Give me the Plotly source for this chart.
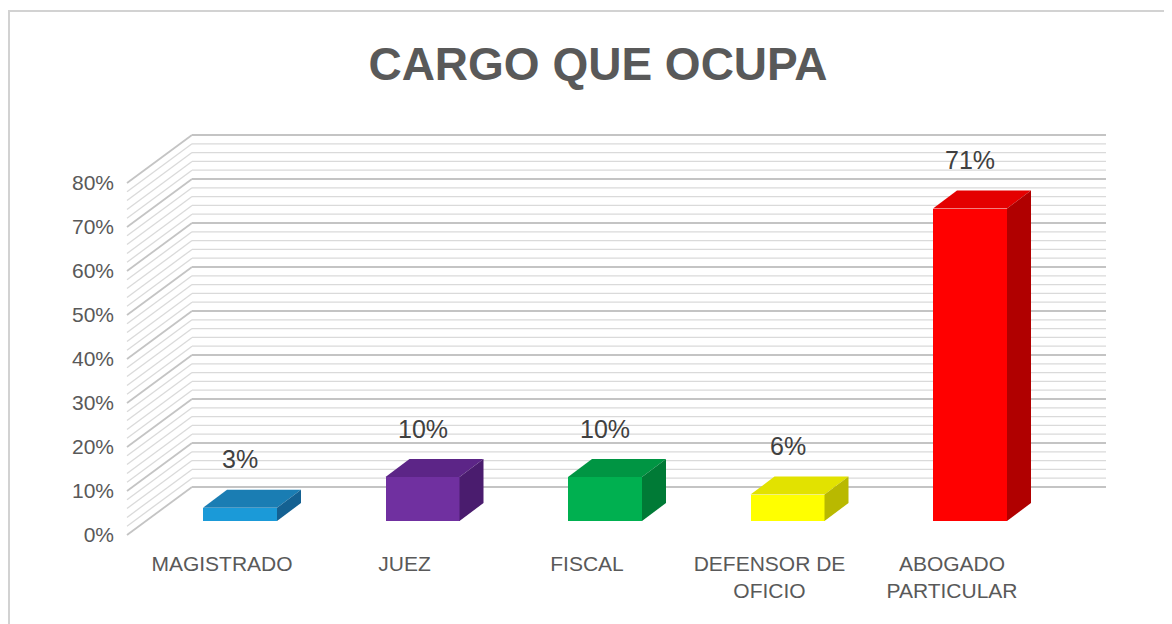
import plotly.graph_objects as go

# ---------------- data ----------------
categories = ["MAGISTRADO", "JUEZ", "FISCAL", "DEFENSOR DE OFICIO", "ABOGADO PARTICULAR"]
tick_text = ["MAGISTRADO", "JUEZ", "FISCAL", "DEFENSOR DE<br>OFICIO", "ABOGADO<br>PARTICULAR"]
values = [3, 10, 10, 6, 71]
value_labels = ["3%", "10%", "10%", "6%", "71%"]
y_ticks = [0, 10, 20, 30, 40, 50, 60, 70, 80]
y_tick_labels = ["0%", "10%", "20%", "30%", "40%", "50%", "60%", "70%", "80%"]
title_text = "CARGO QUE OCUPA"

front_colors = ["#1b9ad8", "#7030a0", "#00b050", "#ffff00", "#ff0000"]
top_colors = ["#1a7db3", "#5c2587", "#009543", "#e2e200", "#e40000"]
side_colors = ["#146192", "#4a1c6e", "#007a36", "#b9b900", "#b00000"]

# ---------------- page geometry ----------------
OFF = 8                      # browser body margin
W, H = 1172 - OFF, 624 - OFF
L, R = 115 - OFF, 50
T, B = 100 - OFF, 83 - OFF
PW, PH = W - L - R, H - T - B

# ---------------- geometry (in axis units) ----------------
PX_U = 182.5      # pixels per category unit
PX_V = 4.4        # pixels per percent
bar_w = 74 / PX_U
bar_du, bar_dv = 18 / PX_U, 14 / PX_V      # bar plane offset from front plane
dep_du, dep_dv = 24 / PX_U, 18 / PX_V      # bar depth
wall_du, wall_dv = 65 / PX_U, 48 / PX_V    # back wall offset
wall_left = (127 - 222) / PX_U
wall_right = (1106 - 222) / PX_U
wall_top = 80

fig = go.Figure()

# wall gridlines
shapes = []
for g in range(0, wall_top + 1, 2):
    major = g % 10 == 0
    col = "#c4c4c4" if major else "#dadada"
    wid = 1.8 if major else 1.3
    shapes.append(dict(type="line", xref="x", yref="y", layer="below",
                       x0=wall_left, y0=g, x1=wall_left + wall_du, y1=g + wall_dv,
                       line=dict(color=col, width=wid)))
    shapes.append(dict(type="line", xref="x", yref="y", layer="below",
                       x0=wall_left + wall_du, y0=g + wall_dv, x1=wall_right, y1=g + wall_dv,
                       line=dict(color=col, width=wid)))


def px_x(p):
    return (p - OFF - L) / PW


def px_y(p):
    return (T + PH - (p - OFF)) / PH


# frame lines (top and left)
shapes.append(dict(type="line", xref="paper", yref="paper",
                   x0=px_x(8), x1=px_x(1180), y0=px_y(11), y1=px_y(11),
                   line=dict(color="#d2d2d2", width=2)))
shapes.append(dict(type="line", xref="paper", yref="paper",
                   x0=px_x(9), x1=px_x(9), y0=px_y(11), y1=px_y(640),
                   line=dict(color="#d2d2d2", width=2)))

xs = list(range(len(categories)))

# front faces
fig.add_trace(go.Bar(
    x=[i + bar_du for i in xs], y=values, base=bar_dv, width=bar_w,
    marker=dict(color=front_colors, line=dict(width=0)),
    hovertext=categories, hoverinfo="text+y", showlegend=False))

# top and side faces
for i, v in enumerate(values):
    xl = i + bar_du - bar_w / 2
    xr = i + bar_du + bar_w / 2
    t = bar_dv + v
    fig.add_trace(go.Scatter(
        x=[xl, xr, xr + dep_du, xl + dep_du, xl],
        y=[t, t, t + dep_dv, t + dep_dv, t],
        fill="toself", fillcolor=top_colors[i], mode="lines",
        line=dict(width=0, color=top_colors[i]), hoverinfo="skip", showlegend=False))
    fig.add_trace(go.Scatter(
        x=[xr, xr + dep_du, xr + dep_du, xr, xr],
        y=[bar_dv, bar_dv + dep_dv, t + dep_dv, t, bar_dv],
        fill="toself", fillcolor=side_colors[i], mode="lines",
        line=dict(width=0, color=side_colors[i]), hoverinfo="skip", showlegend=False))

annotations = []
for i, v in enumerate(values):
    annotations.append(dict(x=i + bar_du, y=v + 14.2, xref="x", yref="y",
                            text=value_labels[i], showarrow=False,
                            font=dict(size=25, color="#404040",
                                      family="Liberation Sans")))

# axis ranges so that 0% front sits at pixel 535 and 10% spans 44 px
y_lo = -((T + PH + OFF) - 535) / PX_V
y_hi = (535 - (T + OFF)) / PX_V
x_lo = ((L + OFF) - 222) / PX_U
x_hi = ((L + PW + OFF) - 222) / PX_U

fig.update_layout(
    width=W, height=H,
    margin=dict(l=L, r=R, t=T, b=B),
    paper_bgcolor="white", plot_bgcolor="rgba(0,0,0,0)",
    font=dict(family="Liberation Sans", color="#595959"),
    title=dict(text=title_text, x=(598 - OFF) / W, xanchor="center",
               y=1 - (64 - OFF) / H, yanchor="middle", yref="container",
               font=dict(size=46, color="#595959", family="Liberation Sans",
                         weight="bold")),
    shapes=shapes, annotations=annotations,
    bargap=0,
    xaxis=dict(range=[x_lo, x_hi],
               tickvals=xs, ticktext=tick_text, showgrid=False, zeroline=False,
               showline=False, ticks="", tickfont=dict(size=21, color="#595959"),
               fixedrange=True),
    yaxis=dict(range=[y_lo, y_hi],
               tickvals=y_ticks, ticktext=y_tick_labels, showgrid=False,
               zeroline=False, showline=False, ticks="",
               tickfont=dict(size=21, color="#595959"), fixedrange=True),
)

fig.write_html("out.html")
